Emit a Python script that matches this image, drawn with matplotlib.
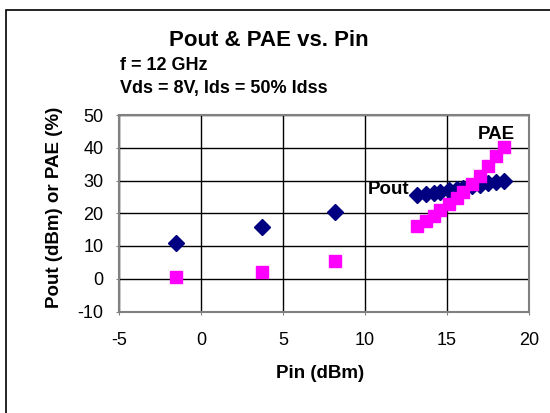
import matplotlib.pyplot as plt
from matplotlib.patches import Rectangle

plt.rcParams['font.family'] = ['Liberation Sans', 'DejaVu Sans']
plt.rcParams['axes.unicode_minus'] = False

# data
pin = [-1.5, 3.7, 8.2, 13.2, 13.7, 14.2, 14.6, 15.1, 15.6, 16.0, 16.5, 17.0, 17.5, 18.0, 18.5]
pout = [10.9, 15.9, 20.3, 25.6, 25.9, 26.2, 26.6, 27.0, 27.4, 27.8, 28.2, 28.6, 29.1, 29.5, 29.9]
pae = [0.6, 2.0, 5.4, 16.1, 17.6, 19.3, 21.0, 22.8, 24.6, 26.6, 28.8, 31.3, 34.5, 37.5, 40.2]

XTICKS = [-5, 0, 5, 10, 15, 20]
YTICKS = [-10, 0, 10, 20, 30, 40, 50]

W, H = 550, 413
fig = plt.figure(figsize=(W / 100, H / 100), dpi=100)
ax = fig.add_axes([119 / W, 1 - 311.5 / H, 410 / W, 196.5 / H])

ax.plot(pin, pout, linestyle='none', marker='D', markersize=8.5,
        color='#000080', zorder=3, clip_on=False)
ax.plot(pin, pae, linestyle='none', marker='s', markersize=9,
        color='#FF00FF', zorder=3, clip_on=False)

ax.set_xlim(-5, 20)
ax.set_ylim(-10, 50)
ax.set_xticks(XTICKS)
ax.set_yticks(YTICKS)
ax.grid(True, color='black', linewidth=1)
ax.set_axisbelow(True)
for s in ax.spines.values():
    s.set_color('#808080')
    s.set_linewidth(1.5)
ax.tick_params(length=2, color='#808080', labelsize=13)
ax.tick_params(axis='x', pad=13)
ax.tick_params(axis='y', pad=9)

ax.set_xlabel('Pin (dBm)', fontsize=13.5, fontweight='bold', va='center')
ax.set_ylabel('Pout (dBm) or PAE (%)', fontsize=13.5, fontweight='bold', va='center')
ax.xaxis.set_label_coords(0.5 - 4 / 410, (311.5 - 374) / 196.5)
ax.yaxis.set_label_coords((55 - 119) / 410, (311.5 - 207) / 196.5)

ax.text(12.7, 27.2, 'Pout', fontsize=13.5, fontweight='bold', ha='right', va='center')
ax.text(16.9, 44.0, 'PAE', fontsize=13.5, fontweight='bold', ha='left', va='center')

fig.text(269 / W, 1 - 40 / H, 'Pout & PAE vs. Pin', fontsize=16, fontweight='bold',
         ha='center', va='center')
fig.text(120 / W, 1 - 65 / H, 'f = 12 GHz', fontsize=13, fontweight='bold',
         ha='left', va='center')
fig.text(120 / W, 1 - 89 / H, 'Vds = 8V, Ids = 50% Idss', fontsize=13,
         fontweight='bold', ha='left', va='center')

# chart border, cut off at right and bottom as in the reference
fig.patches.append(Rectangle((5.5 / W, -0.1), 1.2, 1.1 - 10 / H,
                             transform=fig.transFigure, fill=False,
                             edgecolor='black', linewidth=1.2))

fig.savefig('out.png', dpi=100)
